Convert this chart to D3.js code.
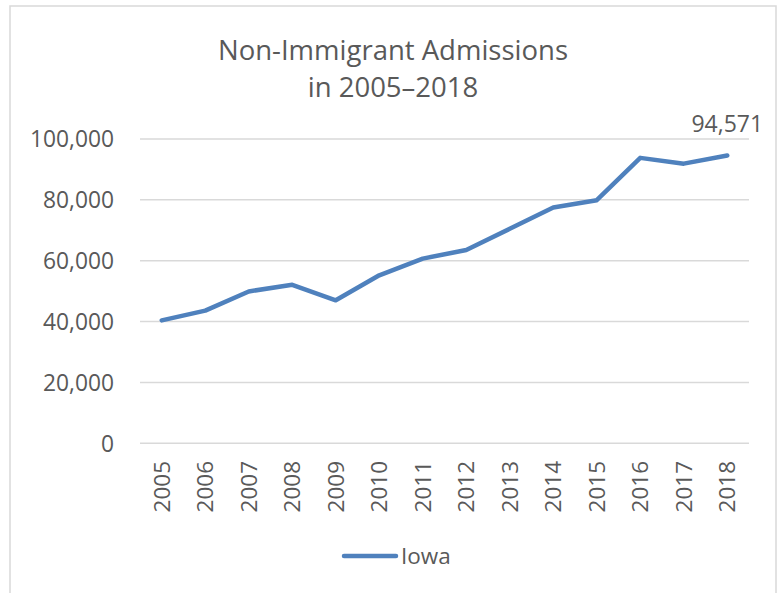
<!DOCTYPE html>
<html><head><meta charset="utf-8">
<script src="https://cdn.jsdelivr.net/npm/d3@7"></script>
<style>body{margin:0;background:#fff}svg{display:block}</style>
</head><body>
<svg id="c" width="778" height="593"></svg>
<script>
const years = ["2005","2006","2007","2008","2009","2010","2011","2012","2013","2014","2015","2016","2017","2018"];
const iowa = [40400,43600,49900,52100,47000,55200,60700,63500,70500,77500,79900,93800,91900,94571];
const yTicks = [0,20000,40000,60000,80000,100000];
const titleLines = ["Non-Immigrant Admissions","in 2005\u20132018"];
const seriesName = "Iowa";

const svg = d3.select("#c");
const font = "'Open Sans', sans-serif";
const textCol = "#595959";

// chart border
svg.append("rect").attr("x",10).attr("y",6).attr("width",766).attr("height",600)
  .attr("fill","none").attr("stroke","#d9d9d9").attr("stroke-width",1.5);

const x = d3.scaleBand().domain(years).range([140,749]);
const y = d3.scaleLinear().domain([0,100000]).range([443.3,139]);

// gridlines
svg.append("g").selectAll("line").data(yTicks).join("line")
  .attr("x1",140).attr("x2",749).attr("y1",d=>y(d)).attr("y2",d=>y(d))
  .attr("stroke","#d9d9d9").attr("stroke-width",1.5);

// y axis labels
const yAxis = d3.axisLeft(y).tickValues(yTicks).tickFormat(d3.format(",")).tickSize(0).tickPadding(0);
const gy = svg.append("g").attr("transform","translate(114,0)").call(yAxis);
gy.select(".domain").remove();
gy.selectAll("text").attr("font-family",font).attr("font-size",22.8).attr("fill",textCol).attr("dy","0.35em");

// x axis labels
const xAxis = d3.axisBottom(x).tickSize(0).tickPadding(0);
const gx = svg.append("g").attr("transform","translate(0,461)").call(xAxis);
gx.select(".domain").remove();
gx.selectAll("text").attr("font-family",font).attr("font-size",22.5).attr("fill",textCol)
  .attr("transform","rotate(-90)").attr("text-anchor","end").attr("x",0).attr("y",0).attr("dy","0.35em")
  .attr("dx",0);

// line
const line = d3.line().x((d,i)=>x(years[i])+x.bandwidth()/2).y(d=>y(d));
svg.append("path").datum(iowa).attr("d",line).attr("fill","none")
  .attr("stroke","#4f81bd").attr("stroke-width",4.5).attr("stroke-linejoin","round").attr("stroke-linecap","round");

// data label for last point
const last = iowa.length-1;
svg.append("text").attr("x",x(years[last])+x.bandwidth()/2).attr("y",y(iowa[last])-24)
  .attr("text-anchor","middle").attr("font-family",font).attr("font-size",23).attr("fill",textCol)
  .text(d3.format(",")(iowa[last]));

// title
svg.append("g").selectAll("text").data(titleLines).join("text")
  .attr("x",393).attr("y",(d,i)=>60+i*37).attr("text-anchor","middle")
  .attr("font-family",font).attr("font-size",27.5).attr("fill",textCol).text(d=>d);

// legend
svg.append("line").attr("x1",344).attr("x2",396).attr("y1",556).attr("y2",556)
  .attr("stroke","#4f81bd").attr("stroke-width",4.5).attr("stroke-linecap","round");
svg.append("text").attr("x",401).attr("y",556).attr("dy","0.35em").attr("font-family",font)
  .attr("font-size",22.5).attr("fill",textCol).text(seriesName);
</script>
</body></html>
